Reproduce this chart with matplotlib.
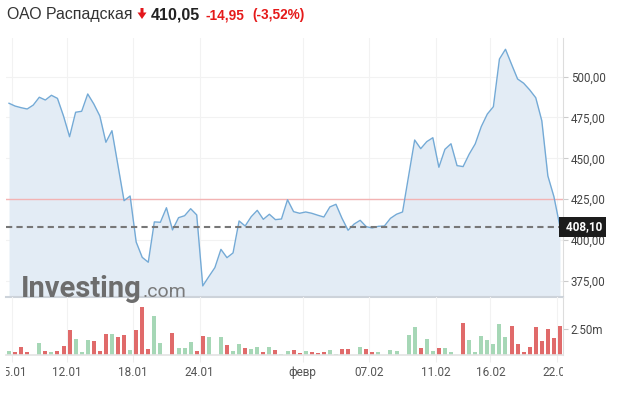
import numpy as np
import matplotlib
matplotlib.use('Agg')
import matplotlib.pyplot as plt
from matplotlib.patches import Polygon
from matplotlib.transforms import Bbox, TransformedBbox, blended_transform_factory

# close prices, one per bar
price = [483.7, 482.0, 481.0, 480.2, 482.6, 487.4, 485.7, 488.6, 486.7, 475.9,
         463.2, 478.2, 478.8, 489.4, 483.3, 475.9, 459.8, 466.9, 445.5, 424.0,
         426.9, 398.7, 389.3, 386.3, 411.0, 410.8, 419.7, 406.1, 413.6, 414.8,
         419.1, 415.3, 371.8, 377.5, 383.0, 394.2, 389.1, 392.0, 411.6, 408.5,
         414.2, 418.1, 412.6, 415.7, 412.4, 412.8, 424.6, 417.3, 416.3, 417.1,
         416.3, 415.1, 414.0, 420.2, 421.8, 413.2, 405.9, 409.7, 412.0, 408.1,
         407.3, 408.3, 408.5, 413.2, 415.7, 417.1, 439.2, 461.2, 455.9, 460.2,
         462.6, 444.5, 455.5, 458.9, 445.5, 444.9, 452.5, 458.8, 469.4, 477.1,
         481.6, 510.8, 516.8, 507.6, 498.6, 496.0, 491.9, 487.1, 473.0, 439.2,
         426.5, 408.1]

# volume in millions
volume = [0.35, 0.26, 0.74, 0.26, 0.0, 1.15, 0.35, 0.29, 0.35, 0.87,
          2.40, 1.50, 0.26, 1.44, 1.31, 0.38, 2.02, 2.02, 1.73, 1.92,
          0.45, 2.40, 4.60, 0.58, 3.75, 1.15, 0.0, 2.10, 0.67, 0.67,
          1.25, 0.38, 1.83, 1.73, 0.0, 1.73, 0.96, 0.38, 1.06, 0.67,
          0.55, 0.77, 0.29, 0.77, 0.48, 0.13, 0.38, 0.48, 0.19, 0.38,
          0.29, 0.19, 0.29, 0.48, 0.10, 0.58, 0.58, 0.0, 0.77, 0.58,
          0.29, 0.29, 0.0, 0.48, 0.38, 0.0, 1.92, 2.69, 0.67, 1.54,
          0.38, 0.67, 0.67, 0.29, 0.0, 3.08, 1.44, 0.29, 1.83, 1.44,
          1.06, 2.98, 1.73, 2.79, 1.09, 0.29, 0.77, 2.69, 1.35, 2.50,
          1.63, 2.79]

# 1 = up bar (green), 0 = down bar (red)
up = [1, 0, 0, 0, 0, 1, 0, 1, 0, 0,
      0, 1, 1, 1, 0, 0, 0, 1, 0, 0,
      1, 0, 0, 0, 1, 1, 0, 0, 1, 1,
      1, 0, 0, 1, 0, 1, 0, 1, 1, 0,
      1, 1, 0, 1, 0, 1, 1, 0, 0, 1,
      0, 0, 0, 1, 1, 0, 0, 0, 1, 0,
      0, 1, 0, 1, 1, 0, 1, 1, 0, 1,
      1, 0, 1, 1, 0, 0, 1, 1, 1, 1,
      1, 1, 1, 0, 0, 0, 0, 0, 0, 0,
      0, 0]

tick_pos = [0.5, 9.5, 20.5, 31.5, 48.5, 59.5, 70.5, 79.5, 90.5]
tick_lab = ['05.01', '12.01', '18.01', '24.01', 'февр', '07.02', '11.02', '16.02', '22.02']

price_ticks = [375, 400, 425, 450, 475, 500]
prev_close = 425.0
last_price = 408.10

W, H = 624, 401
def fx(px):
    return px / W
def fy(py):
    return 1 - py / H

fig = plt.figure(figsize=(W / 100, H / 100), dpi=100)
fig.patch.set_facecolor('white')

ax = fig.add_axes([fx(6), fy(297), fx(563) - fx(6), fy(38) - fy(297)])
axv = fig.add_axes([fx(6), fy(355), fx(563) - fx(6), fy(297) - fy(355)], sharex=ax)

x = np.arange(len(price))

# price panel
ax.fill_between(x, price, 300, color='#e3ecf5', lw=0, zorder=1)
ax.plot(x, price, color='#74aad6', lw=1.0, zorder=3)
ax.axhline(prev_close, color='#f3b3b3', lw=1.0, zorder=2)
ax.axhline(last_price, color='#777777', lw=1.5, ls=(0, (3, 2)), zorder=4)

ax.set_xlim(-0.5, 91.5)
ax.set_ylim(365, 523.7)
ax.set_yticks(price_ticks)
ax.set_yticklabels([('%.2f' % v).replace('.', ',') for v in price_ticks])
ax.yaxis.tick_right()
ax.tick_params(axis='y', length=3.5, width=0.8, color='#cccccc', labelcolor='#444444',
               labelsize=8.3, pad=2)
for lab in ax.get_yticklabels():
    lab.set_family('Roboto')
ax.tick_params(axis='x', length=0, labelbottom=False)
ax.set_xticks(tick_pos)
ax.grid(True, color='#f2f2f2', lw=0.8, zorder=0)
ax.set_axisbelow(True)
for s in ['top', 'left']:
    ax.spines[s].set_visible(False)
ax.spines['right'].set_color('#dddddd')
ax.spines['bottom'].set_color('#cdd3da')
ax.spines['bottom'].set_linewidth(1.5)
ax.set_facecolor('none')

# last price tag
tr = blended_transform_factory(ax.transAxes, ax.transData)
ax.text(1.0, last_price, ' 408,10', transform=tr, ha='left', va='center',
        color='white', fontsize=8.5, fontweight='bold', family='Roboto',
        bbox=dict(boxstyle='square,pad=0.3', fc='#1c1c1c', ec='none'), zorder=10,
        clip_on=False)

# volume panel
cols = ['#a6d7b6' if u else '#e06a6a' for u in up]
axv.bar(x, volume, width=0.66, color=cols, lw=0, zorder=2)
axv.set_ylim(0, 5.58)
axv.set_yticks([2.5])
axv.set_yticklabels(['2.50m'])
axv.yaxis.tick_right()
axv.tick_params(axis='y', length=3.5, width=0.8, color='#cccccc', labelcolor='#444444',
                labelsize=8.3, pad=2)
axv.set_xticks(tick_pos)
axv.set_xticklabels(tick_lab)
axv.tick_params(axis='x', length=5, width=0.8, color='#eeeeee', labelcolor='#555555',
                labelsize=8.5, pad=3)
for lab in axv.get_xticklabels() + axv.get_yticklabels():
    lab.set_family('Roboto')
axv.grid(True, axis='x', color='#f2f2f2', lw=0.8, zorder=0)
axv.set_axisbelow(True)
for s in ['top', 'left']:
    axv.spines[s].set_visible(False)
axv.spines['right'].set_color('#dddddd')
axv.spines['bottom'].set_color('#e3e3e3')
axv.spines['bottom'].set_linewidth(1.2)
axv.set_facecolor('none')

# date labels are cut at the plot edges, as in the original
clipbox = TransformedBbox(Bbox.from_extents(fx(6), 0, fx(563), 1), fig.transFigure)
for lab in axv.get_xticklabels():
    lab.set_clip_box(clipbox)
    lab.set_clip_on(True)

# watermark
fig.text(fx(21), fy(297), 'Investing', fontsize=21, fontweight='bold', color='#6d6d6d',
         family='Roboto', ha='left', va='baseline', zorder=5)
fig.text(fx(143), fy(297), '.com', fontsize=14, color='#7a7a7a',
         family='Roboto', ha='left', va='baseline', zorder=5)

# header
fig.text(fx(7), fy(19), 'ОАО Распадская', fontsize=11.4, color='#333333',
         family='Liberation Sans', ha='left', va='baseline')
arrow = Polygon([[fx(140.5), fy(8)], [fx(143.5), fy(8)], [fx(143.5), fy(12.5)],
                 [fx(146.5), fy(12.5)], [fx(142), fy(19)], [fx(137.5), fy(12.5)],
                 [fx(140.5), fy(12.5)]], closed=True, transform=fig.transFigure,
                fc='#e3161b', ec='none')
fig.patches.append(arrow)
fig.text(fx(151), fy(19), '410,05', fontsize=11.5, fontweight='bold', color='#222222',
         family='Liberation Sans', ha='left', va='baseline')
fig.text(fx(206), fy(19), '-14,95', fontsize=9.8, fontweight='bold', color='#e51a1a',
         family='Liberation Sans', ha='left', va='baseline')
fig.text(fx(252), fy(19), '(-3,52%)', fontsize=9.8, fontweight='bold', color='#e51a1a',
         family='Liberation Sans', ha='left', va='baseline')

fig.savefig('out.png', dpi=100)
